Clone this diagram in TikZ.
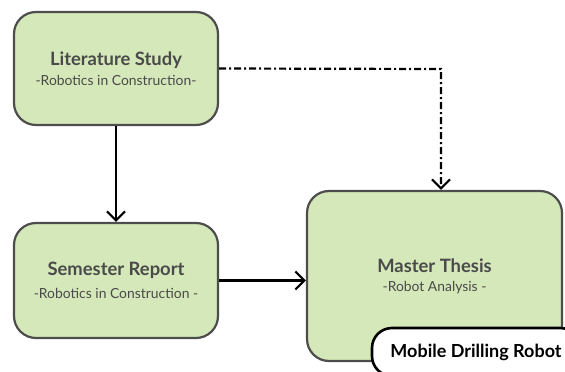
\documentclass[tikz,border=0pt]{standalone}
\usepackage{fontspec}
\setmainfont{Lato}
\usetikzlibrary{arrows.meta,positioning}
\definecolor{stagefill}{HTML}{D5E8B9}
\definecolor{stagedraw}{HTML}{4D4D4D}
\definecolor{stagetext}{HTML}{4A4A4A}
\newcommand{\stagetitle}[1]{{\fontsize{18.4}{20}\selectfont\bfseries #1}}
\newcommand{\stagesub}[1]{{\fontsize{13.9}{16}\selectfont #1}}
\begin{document}
\begin{tikzpicture}[
  x=1pt, y=-1pt,
  stage/.style={rectangle, rounded corners=22pt, draw=stagedraw, line width=2.2pt,
    fill=stagefill, text=stagetext, align=center, inner sep=0pt},
  tag/.style={rectangle, rounded corners=20pt, draw=black, line width=2.6pt,
    fill=white, font=\fontsize{18}{20}\selectfont\bfseries, inner sep=0pt},
  flow/.style={draw, line width=2.2pt, -{Straight Barb[length=9pt,width=18pt]}},
  link/.style={flow, dash pattern=on 7pt off 3pt on 2pt off 3pt}
]
\useasboundingbox (0,0) rectangle (565,372);

% stages
\node[stage, minimum width=204pt, minimum height=113pt] (lit) at (116,68.5)
  {\stagetitle{Literature Study}\\[6pt]\stagesub{-Robotics in Construction-}};
\node[stage, minimum width=204pt, minimum height=115pt] (sem) at (116,280.5)
  {\stagetitle{Semester Report}\\[9pt]\stagesub{-Robotics in Construction -}};
\node[stage, minimum width=255pt, minimum height=170pt] (thesis) at (434.5,276)
  {\stagetitle{Master Thesis}\\[7pt]\stagesub{-Robot Analysis -}};
\node[tag, minimum width=208pt, minimum height=48pt] (robot) at (476,352)
  {Mobile Drilling Robot};

% connectors
\coordinate (bend) at (441,69);
\draw[flow] (lit.south) -- (sem.north);
\draw[flow] (sem.east) -- (sem.east -| thesis.west);
\draw[link] (lit.east) -- (bend) -- (bend |- thesis.north);
\end{tikzpicture}
\end{document}
